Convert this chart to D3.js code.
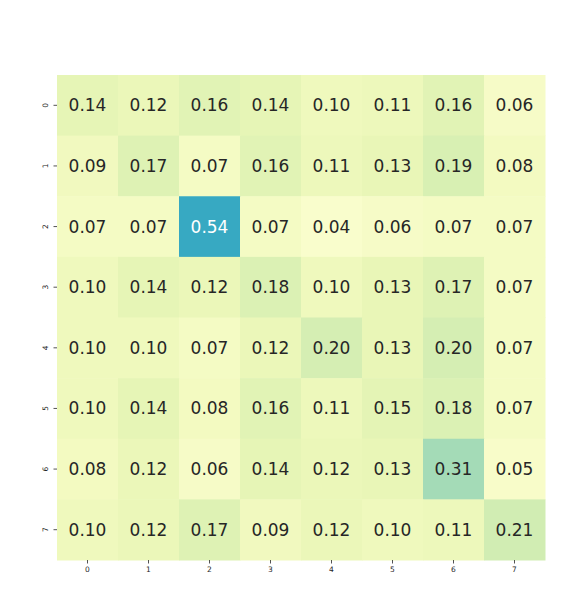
<!DOCTYPE html>
<html>
<head>
<meta charset="utf-8">
<script src="https://cdn.jsdelivr.net/npm/d3@7"></script>
<style>
body { margin: 0; background: #fff; }
text { font-family: "DejaVu Sans", sans-serif; }
</style>
</head>
<body>
<script>
const rowLabels = ["0", "1", "2", "3", "4", "5", "6", "7"];
const colLabels = ["0", "1", "2", "3", "4", "5", "6", "7"];

const row0 = [0.14, 0.12, 0.16, 0.14, 0.10, 0.11, 0.16, 0.06];
const row1 = [0.09, 0.17, 0.07, 0.16, 0.11, 0.13, 0.19, 0.08];
const row2 = [0.07, 0.07, 0.54, 0.07, 0.04, 0.06, 0.07, 0.07];
const row3 = [0.10, 0.14, 0.12, 0.18, 0.10, 0.13, 0.17, 0.07];
const row4 = [0.10, 0.10, 0.07, 0.12, 0.20, 0.13, 0.20, 0.07];
const row5 = [0.10, 0.14, 0.08, 0.16, 0.11, 0.15, 0.18, 0.07];
const row6 = [0.08, 0.12, 0.06, 0.14, 0.12, 0.13, 0.31, 0.05];
const row7 = [0.10, 0.12, 0.17, 0.09, 0.12, 0.10, 0.11, 0.21];
const matrix = [row0, row1, row2, row3, row4, row5, row6, row7];

const width = 586, height = 608;
const mLeft = 57, mRight = 545, mTop = 75, mBottom = 560;

const svg = d3.select("body").append("svg")
    .attr("width", width)
    .attr("height", height);

const x = d3.scaleBand().domain(colLabels).range([mLeft, mRight]);
const y = d3.scaleBand().domain(rowLabels).range([mTop, mBottom]);
const color = d3.scaleSequential(d3.interpolateYlGnBu).domain([0, 1]);

// flatten cells
let cells = [];
for (let i = 0; i < matrix.length; i++) {
    for (let j = 0; j < matrix[i].length; j++) {
        cells.push({ r: rowLabels[i], c: colLabels[j], v: matrix[i][j] });
    }
}

svg.append("g").selectAll("rect")
    .data(cells)
    .join("rect")
    .attr("x", d => x(d.c))
    .attr("y", d => y(d.r))
    .attr("width", x.bandwidth() + 0.5)
    .attr("height", y.bandwidth() + 0.5)
    .attr("fill", d => color(d.v));

svg.append("g").selectAll("text")
    .data(cells)
    .join("text")
    .attr("x", d => x(d.c) + x.bandwidth() / 2)
    .attr("y", d => y(d.r) + y.bandwidth() / 2)
    .attr("text-anchor", "middle")
    .attr("dominant-baseline", "central")
    .attr("font-size", 17)
    .attr("fill", d => d3.hsl(color(d.v)).l > 0.6 ? "#262626" : "#ffffff")
    .text(d => d.v.toFixed(2));

// axes
const xAxis = svg.append("g")
    .attr("transform", `translate(0,${mBottom})`)
    .call(d3.axisBottom(x).tickSize(3.5).tickPadding(3));
xAxis.select(".domain").remove();
xAxis.selectAll("text").attr("font-size", 7.5).attr("fill", "#262626")
    .style("font-family", "DejaVu Sans");
xAxis.selectAll("line").attr("stroke", "#262626").attr("stroke-width", 0.8);

const yAxis = svg.append("g")
    .attr("transform", `translate(${mLeft},0)`)
    .call(d3.axisLeft(y).tickSize(3.5).tickPadding(3));
yAxis.select(".domain").remove();
yAxis.selectAll("line").attr("stroke", "#262626").attr("stroke-width", 0.8);
yAxis.selectAll("text")
    .attr("font-size", 7.5)
    .attr("fill", "#262626")
    .style("font-family", "DejaVu Sans")
    .attr("x", null)
    .attr("dy", null)
    .attr("text-anchor", "middle")
    .attr("dominant-baseline", "central")
    .attr("transform", "translate(-12,0) rotate(-90)");
</script>
</body>
</html>
